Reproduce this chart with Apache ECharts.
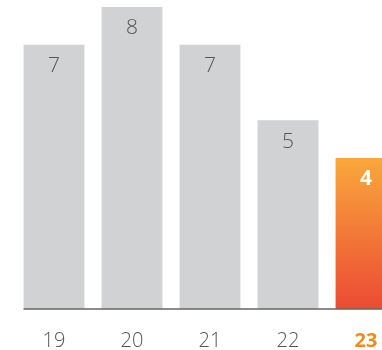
<!DOCTYPE html>
<html>
<head>
<meta charset="utf-8">
<script src="https://cdn.jsdelivr.net/npm/echarts@6/dist/echarts.min.js"></script>
<style>
  html, body { margin: 0; padding: 0; background: #fff; }
  #chart { width: 382px; height: 350px; }
</style>
</head>
<body>
<div id="chart"></div>
<script>
const categories = ["19", "20", "21", "22", "23"];
const values = [7, 8, 7, 5, 4];
const highlightIndex = 4;

const chart = echarts.init(document.getElementById("chart"));

const grey = "#d1d2d4";
const orange = "#f28a1e";
const gapRatio = 0.22;

const barData = values.map((v, i) => {
  if (i !== highlightIndex) return v;
  return {
    value: v,
    itemStyle: {
      color: new echarts.graphic.LinearGradient(0, 0, 0, 1, [
        { offset: 0, color: "#f9a83b" },
        { offset: 1, color: "#ec4a34" }
      ])
    },
    label: { color: "#fff", fontWeight: "bold" }
  };
});

const option = {
  animation: false,
  grid: {
    left: 15,
    right: -23,
    top: 7,
    bottom: 41,
    containLabel: false,
    outerBoundsMode: "none"
  },
  xAxis: {
    type: "category",
    data: categories,
    axisLine: { show: false },
    axisTick: { show: false },
    axisLabel: {
      interval: 0,
      margin: 22,
      fontFamily: "Open Sans",
      fontSize: 20,
      fontWeight: 300,
      color: "#555",
      rich: {
        hl: { color: orange, fontWeight: "bold", fontSize: 20, fontFamily: "Open Sans" }
      },
      formatter: (val, idx) => idx === highlightIndex ? "{hl|" + val + "}" : val
    }
  },
  yAxis: {
    type: "value",
    min: 0,
    max: 8,
    show: false
  },
  series: [
    {
      type: "bar",
      data: barData,
      barCategoryGap: (gapRatio * 100) + "%",
      itemStyle: { color: grey },
      label: {
        show: true,
        position: "insideTop",
        distance: 11,
        fontFamily: "Open Sans",
        fontSize: 21,
        fontWeight: 300,
        color: "#555"
      }
    }
  ]
};

chart.setOption(option);

// baseline starts at the left edge of the first bar
const p0 = chart.convertToPixel({ xAxisIndex: 0, yAxisIndex: 0 }, [0, 0]);
const p1 = chart.convertToPixel({ xAxisIndex: 0, yAxisIndex: 0 }, [1, 0]);
const barW = (p1[0] - p0[0]) * (1 - gapRatio);
chart.setOption({
  graphic: [{
    type: "line",
    shape: { x1: p0[0] - barW / 2, y1: p0[1], x2: 382, y2: p0[1] },
    style: { stroke: "#666", lineWidth: 1.5 },
    z: 10
  }]
});
</script>
</body>
</html>
